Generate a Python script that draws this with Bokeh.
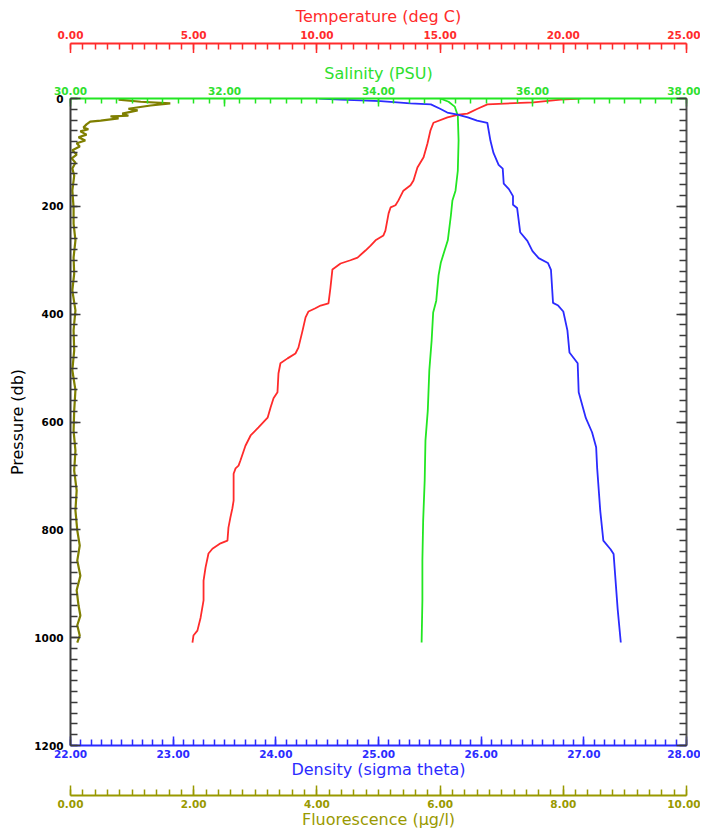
from bokeh.plotting import figure
from bokeh.layouts import column
from bokeh.models import (Range1d, LinearAxis, SingleIntervalTicker,
                          PrintfTickFormatter, CustomJSTickFormatter)
from bokeh.embed import file_html
from bokeh.resources import INLINE

# ---------------- data ----------------
temp_pressure = [0, 2, 7, 11, 19, 28, 30, 35, 45, 59, 83, 109, 128, 152, 161, 171, 189, 198, 202, 213,
                 245, 254, 263, 273, 282, 295, 300, 306, 317, 351, 380, 384, 389, 395, 406, 430, 462, 473, 482, 491,
                 510, 545, 556, 573, 592, 610, 625, 644, 671, 681, 686, 696, 746, 760, 777, 796, 820, 825, 835, 844,
                 870, 894, 931, 963, 987, 996, 1009]
temp_values = [20.70, 19.89, 18.79, 16.92, 16.52, 16.11, 15.75, 15.30, 14.73, 14.61, 14.49, 14.33, 14.08, 13.92, 13.80, 13.51, 13.31, 13.19, 12.99, 12.91,
               12.78, 12.70, 12.38, 12.18, 11.97, 11.65, 11.36, 10.96, 10.63, 10.55, 10.47, 10.15, 9.94, 9.66, 9.54, 9.42, 9.25, 9.13, 8.81, 8.52,
               8.44, 8.40, 8.24, 8.12, 8.00, 7.63, 7.31, 7.10, 6.90, 6.82, 6.70, 6.62, 6.62, 6.57, 6.49, 6.41, 6.37, 6.09, 5.76, 5.60,
               5.48, 5.40, 5.40, 5.28, 5.15, 4.99, 4.95]

sal_pressure = [0, 6, 15, 32, 78, 134, 171, 189, 217, 263, 304, 328, 375, 397, 449, 504, 579, 634, 708, 783,
                857, 931, 1009]
sal_values = [34.80, 34.91, 34.99, 35.03, 35.04, 35.03, 35.00, 34.96, 34.94, 34.90, 34.81, 34.78, 34.75, 34.71, 34.69, 34.66, 34.64, 34.61, 34.60, 34.58,
              34.57, 34.57, 34.56]

dens_pressure = [0, 2, 5, 9, 11, 19, 26, 30, 35, 41, 45, 78, 101, 123, 130, 158, 168, 181, 197, 203,
                 248, 264, 283, 296, 305, 318, 379, 384, 395, 430, 471, 491, 545, 593, 619, 647, 686, 765, 820, 836,
                 845, 948, 1009]
dens_values = [24.42, 24.63, 25.02, 25.31, 25.51, 25.60, 25.67, 25.77, 25.87, 25.96, 26.06, 26.09, 26.12, 26.17, 26.21, 26.22, 26.27, 26.31, 26.31, 26.35,
               26.38, 26.45, 26.50, 26.56, 26.65, 26.68, 26.70, 26.75, 26.80, 26.84, 26.86, 26.94, 26.95, 27.02, 27.08, 27.12, 27.13, 27.16, 27.19, 27.26,
               27.29, 27.33, 27.36]

fl_pressure = [2, 6, 9, 13, 19, 22, 28, 32, 33, 37, 41, 43, 48, 54, 57, 61, 67, 72, 78, 83,
               89, 96, 104, 111, 119, 130, 143, 171, 202, 232, 263, 295, 325, 356, 393, 430, 467, 504, 541, 579,
               616, 653, 690, 727, 764, 801, 829, 857, 885, 912, 940, 959, 977, 996, 1009]
fl_values = [0.78, 1.14, 1.62, 1.30, 0.94, 1.09, 0.84, 0.94, 0.65, 0.78, 0.49, 0.32, 0.26, 0.21, 0.29, 0.16, 0.26, 0.13, 0.24, 0.10,
             0.15, 0.03, 0.10, 0.02, 0.08, 0.03, 0.06, 0.03, 0.05, 0.05, 0.08, 0.05, 0.06, 0.03, 0.08, 0.05, 0.06, 0.03, 0.08, 0.06,
             0.05, 0.08, 0.06, 0.10, 0.08, 0.11, 0.15, 0.11, 0.16, 0.10, 0.13, 0.16, 0.11, 0.15, 0.11]

# axis definitions: (start, end, major interval)
temp_axis_range = (0, 25, 5)
sal_axis_range = (30, 38, 2)
dens_axis_range = (22, 28, 1)
fl_axis_range = (0, 10, 2)
press_axis_range = (1200, 0, 200)

# ---------------- styling ----------------
RED = "#ff2b2b"
GREEN = "#22e622"
GREEN_TXT = "#2ee02e"
BLUE = "#2b2bff"
OLIVE = "#7f7f00"
OLIVE_TXT = "#999900"
DARK = "#3a3a3a"
FONT = "DejaVu Sans"
TICK_FS = "10.5px"
TITLE_FS = "16px"
W = 700
BORDER_L = 70
BORDER_R = 14


def make_axis(range_name, rng, color, txt_color, label, tick_in, minor_in,
              lab_standoff, title_standoff, fmt="%.2f"):
    kw = {}
    if range_name is not None:
        kw["x_range_name"] = range_name
    ax = LinearAxis(ticker=SingleIntervalTicker(interval=rng[2], num_minor_ticks=10),
                    formatter=PrintfTickFormatter(format=fmt), **kw)
    ax.axis_line_color = color
    ax.axis_line_width = 2
    ax.major_tick_line_color = color
    ax.minor_tick_line_color = color
    ax.major_tick_line_width = 1.5
    ax.minor_tick_line_width = 1.5
    ax.major_tick_in = tick_in
    ax.major_tick_out = 0
    ax.minor_tick_in = minor_in
    ax.minor_tick_out = 0
    ax.major_label_text_color = txt_color
    ax.major_label_text_font = FONT
    ax.major_label_text_font_style = "bold"
    ax.major_label_text_font_size = TICK_FS
    ax.major_label_standoff = lab_standoff
    ax.axis_label = label
    ax.axis_label_text_color = txt_color
    ax.axis_label_text_font = FONT
    ax.axis_label_text_font_style = "normal"
    ax.axis_label_text_font_size = TITLE_FS
    ax.axis_label_standoff = title_standoff
    return ax


def strip_fig(rng, height, top, bottom):
    f = figure(width=W, height=height, output_backend="svg", toolbar_location=None,
               x_range=Range1d(rng[0], rng[1]), y_range=Range1d(0, 1),
               x_axis_type=None, y_axis_type=None,
               min_border_left=BORDER_L, min_border_right=BORDER_R,
               min_border_top=top, min_border_bottom=bottom)
    f.outline_line_color = None
    return f


# ---- header: temperature axis (ticks hang down from its line) ----
header = strip_fig(temp_axis_range, 53, 43, 0)
header.add_layout(make_axis(None, temp_axis_range, RED, RED, "Temperature (deg C)", 10, 6, 5, 2), "above")

# ---- main panel ----
p = figure(width=W, height=732, output_backend="svg", toolbar_location=None,
           x_range=Range1d(dens_axis_range[0], dens_axis_range[1]),
           y_range=Range1d(press_axis_range[0], press_axis_range[1]),
           x_axis_type=None, y_axis_type=None,
           min_border_left=BORDER_L, min_border_right=BORDER_R, min_border_top=45, min_border_bottom=40)
p.extra_x_ranges = {
    "temp": Range1d(temp_axis_range[0], temp_axis_range[1]),
    "sal": Range1d(sal_axis_range[0], sal_axis_range[1]),
    "fl": Range1d(fl_axis_range[0], fl_axis_range[1]),
}
p.outline_line_color = None

p.add_layout(make_axis("sal", sal_axis_range, GREEN, GREEN_TXT, "Salinity (PSU)", 8, 5, 4, 1), "above")
p.add_layout(make_axis(None, dens_axis_range, BLUE, BLUE, "Density (sigma theta)", 9, 6, 4, -1), "below")

press_axis = LinearAxis(ticker=SingleIntervalTicker(interval=press_axis_range[2], num_minor_ticks=10))
press_axis.axis_line_color = DARK
press_axis.axis_line_width = 2
press_axis.major_tick_line_color = DARK
press_axis.minor_tick_line_color = DARK
press_axis.major_tick_line_width = 1.5
press_axis.minor_tick_line_width = 1.5
press_axis.major_tick_in = 10
press_axis.major_tick_out = 0
press_axis.minor_tick_in = 7
press_axis.minor_tick_out = 0
press_axis.major_label_text_color = "black"
press_axis.major_label_text_font = FONT
press_axis.major_label_text_font_style = "bold"
press_axis.major_label_text_font_size = TICK_FS
press_axis.major_label_standoff = 7
press_axis.axis_label = "Pressure (db)"
press_axis.axis_label_text_color = "black"
press_axis.axis_label_text_font = FONT
press_axis.axis_label_text_font_style = "normal"
press_axis.axis_label_text_font_size = TITLE_FS
press_axis.axis_label_standoff = 4
p.add_layout(press_axis, "left")

right_axis = LinearAxis(ticker=SingleIntervalTicker(interval=press_axis_range[2], num_minor_ticks=10),
                        formatter=CustomJSTickFormatter(code="return ''"))
right_axis.axis_line_color = "#555555"
right_axis.axis_line_width = 2
right_axis.major_tick_line_color = DARK
right_axis.minor_tick_line_color = DARK
right_axis.major_tick_line_width = 1.5
right_axis.minor_tick_line_width = 1.5
right_axis.major_tick_in = 10
right_axis.major_tick_out = 0
right_axis.minor_tick_in = 7
right_axis.minor_tick_out = 0
right_axis.major_label_standoff = 0
p.add_layout(right_axis, "right")

p.line(x=fl_values, y=fl_pressure, x_range_name="fl", line_color=OLIVE, line_width=2.2)
p.line(x=sal_values, y=sal_pressure, x_range_name="sal", line_color=GREEN, line_width=1.8)
p.line(x=temp_values, y=temp_pressure, x_range_name="temp", line_color=RED, line_width=1.8)
p.line(x=dens_values, y=dens_pressure, line_color=BLUE, line_width=1.8)

# ---- footer: fluorescence axis (ticks point up from its line) ----
footer = strip_fig(fl_axis_range, 46, 0, 36)
footer.add_layout(make_axis(None, fl_axis_range, OLIVE_TXT, OLIVE_TXT, "Fluorescence (\u00b5g/l)", 10, 6, 4, -1), "below")

layout = column(header, p, footer, spacing=0)
open("out.html", "w").write(file_html(layout, INLINE))
